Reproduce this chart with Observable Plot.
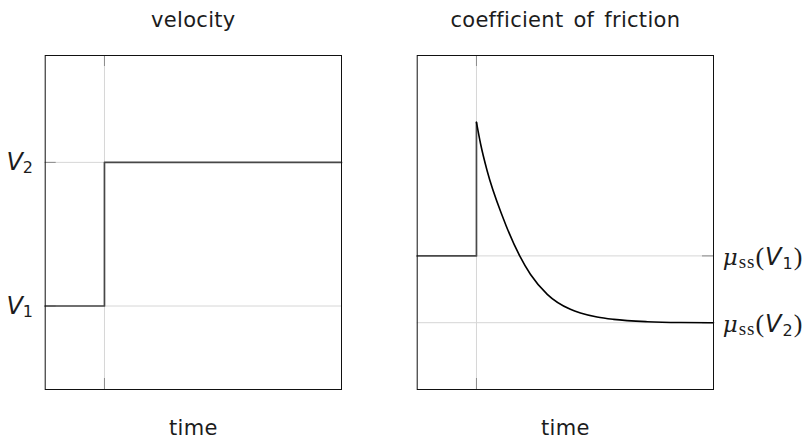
<!DOCTYPE html>
<html><head><meta charset="utf-8">
<script src="https://cdn.jsdelivr.net/npm/d3@7"></script>
<script src="https://cdn.jsdelivr.net/npm/@observablehq/plot@0.6"></script>
<style>
html,body{margin:0;padding:0;background:#fff;}
#wrap{position:relative;width:809px;height:439px;overflow:hidden;background:#fff;}
#wrap svg{position:absolute;top:0;}
</style></head><body><div id="wrap"></div>
<script>
// ---- data ----
const timeDomain = [0, 10];
const stepTime = [2];
const velocityLevels = [0.25, 0.68];          // V1, V2
const velocityLabelSubs = ["1", "2"];
const velocityT = [0, 2, 2, 10];
const velocityV = [0.25, 0.25, 0.68, 0.68];
const frictionLevels = [0.40, 0.20];          // mu_ss(V1), mu_ss(V2)
const frictionLabelSubs = ["1", "2"];
const frictionStepT = [0, 2, 2];
const frictionStepMu = [0.40, 0.40, 0.80];
const decayT  = [2.00, 2.14, 2.36, 2.87, 3.46, 3.82, 4.39, 5.17, 5.51, 6.07, 6.63, 7.76, 8.89, 10.0];
const decayMu = [0.800, 0.735, 0.655, 0.520, 0.400, 0.345, 0.285, 0.240, 0.229, 0.217, 0.210, 0.203, 0.2005, 0.200];
const titles = ["velocity", "coefficient of friction"];
const xLabel = "time";

// ---- layout ----
const H = 439, mT = 55, mB = 50, innerH = H - mT - mB;
const gridColor = "#d6d6d6", tickColor = "#8a8a8a", textColor = "#1c1c1c";
const sansFont = "DejaVu Sans";

function textMarks(title) {
  return [
    Plot.text([title], {frameAnchor: "top", lineAnchor: "bottom", dy: -29, fontFamily: sansFont, fontSize: 21, fill: textColor, text: d => d}),
    Plot.text([xLabel], {frameAnchor: "bottom", lineAnchor: "bottom", dy: 45, fontFamily: sansFont, fontSize: 21, fill: textColor, text: d => d})
  ];
}

function panel({width, marginLeft, marginRight, levels, tickSide, lines, title}) {
  const innerW = width - marginLeft - marginRight;
  return Plot.plot({
    width, height: H, marginTop: mT, marginBottom: mB, marginLeft, marginRight,
    x: {domain: timeDomain, axis: null},
    y: {domain: [0, 1], axis: null},
    style: {background: "transparent", overflow: "visible", wordSpacing: "3px", letterSpacing: "0.3px"},
    marks: [
      Plot.ruleX(stepTime, {stroke: gridColor, strokeWidth: 1}),
      Plot.ruleY(levels, {stroke: gridColor, strokeWidth: 1}),
      Plot.tickX(stepTime, {stroke: tickColor, insetBottom: innerH - 11}),
      Plot.tickX(stepTime, {stroke: tickColor, insetTop: innerH - 11}),
      tickSide === "left"
        ? Plot.tickY(levels, {stroke: tickColor, insetRight: innerW - 11})
        : Plot.tickY(levels, {stroke: tickColor, insetLeft: innerW - 11}),
      ...lines,
      Plot.frame({stroke: "#111", strokeWidth: 1}),
      ...textMarks(title)
    ]
  });
}

const wrap = document.getElementById("wrap");

// left panel: velocity
const velData = velocityT.map((t, i) => ({t, v: velocityV[i]}));
const left = panel({
  width: 380, marginLeft: 44.7, marginRight: 39,
  levels: velocityLevels, tickSide: "left", title: titles[0],
  lines: [Plot.line(velData, {x: "t", y: "v", stroke: "#474747", strokeWidth: 1.7})]
});
left.style.left = "0px";
wrap.appendChild(left);

// right panel: friction
const stepData = frictionStepT.map((t, i) => ({t, mu: frictionStepMu[i]}));
const decayData = decayT.map((t, i) => ({t, mu: decayMu[i]}));
const right = panel({
  width: 429, marginLeft: 36.7, marginRight: 96,
  levels: frictionLevels, tickSide: "right", title: titles[1],
  lines: [
    Plot.line(stepData, {x: "t", y: "mu", stroke: "#4a4a4a", strokeWidth: 1.7}),
    Plot.line(decayData, {x: "t", y: "mu", stroke: "#000", strokeWidth: 1.6, curve: "monotone-x"})
  ]
});
right.style.left = "380px";
wrap.appendChild(right);

// ---- rich tick labels (positioned with the plots' own scales) ----
const yL = left.scale("y"), yR = right.scale("y");
velocityLevels.forEach((v, i) => {
  const y = yL.apply(v);
  const t = d3.select(left).append("text")
    .attr("x", 33).attr("y", y + 8).attr("text-anchor", "end")
    .attr("fill", textColor).attr("font-family", sansFont).style("letter-spacing", "0px");
  t.append("tspan").attr("font-style", "italic").attr("font-size", 24).text("V");
  t.append("tspan").attr("font-size", 16).attr("dy", 3.3).text(velocityLabelSubs[i]);
});
const rx = right.scale("x").apply(timeDomain[1]) + 9.7;
frictionLevels.forEach((m, i) => {
  const y = yR.apply(m);
  const t = d3.select(right).append("text")
    .attr("x", rx).attr("y", y + 9.5).attr("text-anchor", "start")
    .attr("fill", textColor).attr("font-family", sansFont).style("letter-spacing", "1px");
  t.append("tspan").attr("font-family", "DejaVu Serif").attr("font-style", "italic").attr("font-size", 23).text("μ");
  t.append("tspan").attr("font-family", "Liberation Serif").attr("font-size", 19).attr("dy", 3.5).text("ss");
  t.append("tspan").attr("font-family", "Liberation Serif").attr("font-size", 26).attr("dy", -3.5).text("(");
  t.append("tspan").attr("font-style", "italic").attr("font-size", 24).text("V");
  t.append("tspan").attr("font-size", 16).attr("dy", 4).text(frictionLabelSubs[i]);
  t.append("tspan").attr("font-family", "Liberation Serif").attr("font-size", 26).attr("dy", -4).text(")");
});
</script></body></html>
